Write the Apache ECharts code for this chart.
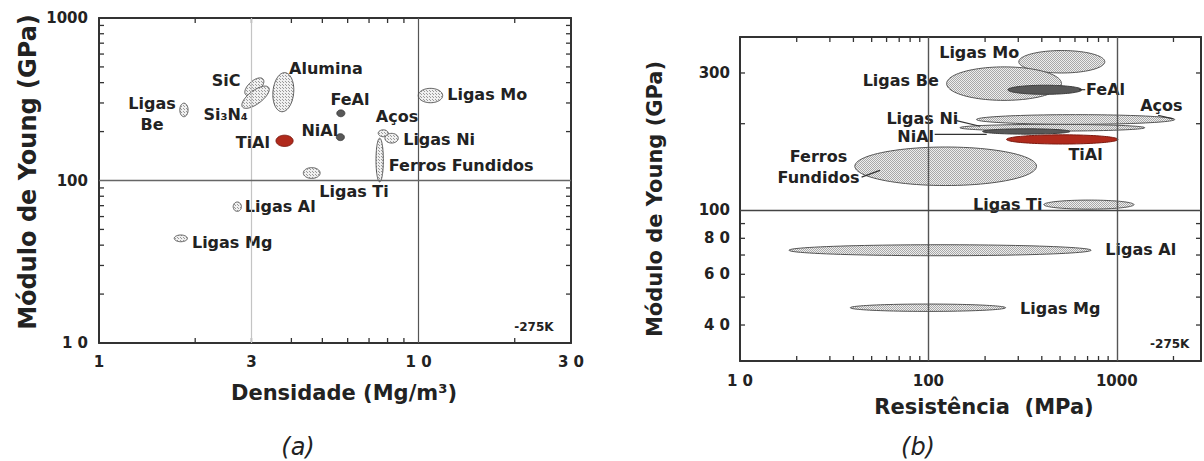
<!DOCTYPE html>
<html>
<head>
<meta charset="utf-8">
<script src="https://cdn.jsdelivr.net/npm/echarts@6/dist/echarts.min.js"></script>
<style>
  html, body { margin: 0; padding: 0; background: #fff; }
  #chart { width: 1204px; height: 461px; }
</style>
</head>
<body>
<div id="chart"></div>
<script>
// ---------- (a) Young's modulus vs density: property ranges per material ----------
const densMaterials = ['Ligas Be', 'SiC', 'Si₃N₄', 'Alumina', 'FeAl', 'NiAl', 'TiAl',
  'Ligas Mo', 'Aços', 'Ligas Ni', 'Ferros Fundidos', 'Ligas Ti', 'Ligas Al', 'Ligas Mg'];
const densityLow  = [1.79, 2.86, 2.80, 3.50, 5.55, 5.53, 3.58, 9.98, 7.48, 7.85, 7.36, 4.36, 2.63, 1.72];
const densityHigh = [1.90, 3.28, 3.41, 4.07, 5.88, 5.86, 4.05, 11.9, 8.04, 8.64, 7.76, 4.92, 2.79, 1.89];
const modulusLowA  = [247, 332, 278, 265, 247, 176, 162, 301, 186, 170, 98, 103, 64.6, 42.0];
const modulusHighA = [299, 428, 381, 461, 272, 194, 190, 369, 205, 195, 182, 120, 73.7, 46.2];

// ---------- (b) Young's modulus vs strength ----------
const strMaterials = ['Ligas Mo', 'Ligas Be', 'FeAl', 'Ligas Ni', 'Aços', 'NiAl', 'TiAl',
  'Ferros Fundidos', 'Ligas Ti', 'Ligas Al', 'Ligas Mg'];
const strengthLow  = [302, 125, 264, 147, 180, 194, 260, 40.7, 410, 18.2, 38.5];
const strengthHigh = [864, 509, 652, 1408, 2032, 564, 1016, 375, 1234, 731, 257];
const modulusLowB  = [300, 241, 253, 188.5, 199, 184, 170, 122, 101, 69.6, 44.6];
const modulusHighB = [359, 315, 272, 199, 215, 192, 183, 166, 108.6, 76, 47.3];

// ---------- axis ranges, tick values and tick label texts ----------
const densRange = [1, 30];
const modARange = [10, 1000];
const strRange  = [10, 2800];
const modBRange = [30, 400];
const densLabelValues = [1, 3, 10, 30];
const densLabelTexts  = ['1', '3', '1 0', '3 0'];
const densMinorTicks  = [2, 3, 4, 5, 6, 7, 8, 9, 20];
const modALabelValues = [10, 100, 1000];
const modALabelTexts  = ['1 0', '100', '1000'];
const modAMinorTicks  = [20, 30, 40, 50, 60, 70, 80, 90, 200, 300, 400, 500, 600, 700, 800, 900];
const strLabelValues  = [10, 100, 1000];
const strLabelTexts   = ['1 0', '100', '1000'];
const strMinorTicks   = [20, 30, 40, 50, 60, 70, 80, 90, 200, 300, 400, 500, 600, 700, 800, 900, 2000];
const modBLabelValues = [40, 60, 80, 100, 300];
const modBLabelTexts  = ['4 0', '6 0', '8 0', '100', '300'];
const modBMinorTicks  = [40, 50, 60, 70, 80, 90, 200, 300];

// ---------- annotation layout (label anchors in data units) ----------
const densLabelText = ['Ligas\nBe', 'SiC', 'Si₃N₄', 'Alumina', 'FeAl', 'NiAl', 'TiAl',
  'Ligas Mo', 'Aços', 'Ligas Ni', 'Ferros Fundidos', 'Ligas Ti', 'Ligas Al', 'Ligas Mg'];
const densLabelX = [1.465, 2.50, 2.49, 5.13, 6.10, 4.91, 3.03, 16.4, 8.56, 11.6, 13.6, 6.28, 3.69, 2.61];
const densLabelY = [257, 410, 256, 492, 317, 202, 171, 336, 246, 178, 123, 86, 68.7, 41.3];

const strLabelText = ['Ligas Mo', 'Ligas Be', 'FeAl', 'Aços', 'Ligas Ni', 'NiAl', 'TiAl',
  'Ferros\nFundidos', 'Ligas Ti', 'Ligas Al', 'Ligas Mg'];
const strLabelX = [186, 71.3, 872, 1726, 92.9, 85.6, 683, 26.1, 264, 1340, 501];
const strLabelY = [354, 283, 262, 231, 208, 180, 156, 141, 104.6, 73.4, 45.7];
// leader lines [x1, y1, x2, y2]
const strLeaders = [
  [141, 205, 188, 196],
  [108, 183.5, 204, 183.5],
  [44.2, 130.5, 55.3, 137.7],
  [630, 262.5, 680, 262.5],
  [1656, 214, 1990, 208]
];

// ---------- styles ----------
const densTilt = [0, 0.6, 0.7, 0.12, 0, 0, 0, 0, 0, 0, 0, 0, 0, 0];
const densKind = ['dots', 'dots', 'dots', 'dots', 'dark', 'dark', 'red', 'dots', 'dots', 'dots', 'dots', 'dots', 'dots', 'dots'];
const strKind  = ['dots', 'dots', 'dark', 'dots', 'dots', 'dark', 'red', 'dots', 'dots', 'dots', 'dots'];

function stipple(bg, dot, size) {
  const c = document.createElement('canvas');
  c.width = size; c.height = size;
  const g = c.getContext('2d');
  g.fillStyle = bg; g.fillRect(0, 0, size, size);
  g.fillStyle = dot;
  g.fillRect(0, 0, 1, 1);
  g.fillRect(Math.floor(size / 2), Math.floor(size / 2), 1, 1);
  return { image: c, repeat: 'repeat' };
}
const fillA = stipple('#f0f0f0', '#9a9a9a', 3);
const fillB = stipple('#eeeeee', '#a8a8a8', 2);

const FONT = '"DejaVu Sans", "Liberation Sans", Arial, sans-serif';
const INK = '#222';
const FRAME = '#333';

function fillFor(kind, dotted) {
  if (kind === 'dark') return { fill: '#585858', stroke: '#3c3c3c' };
  if (kind === 'red') return { fill: '#b02a1c', stroke: '#7c1a10' };
  return { fill: dotted, stroke: '#555' };
}

// ellipse inscribed in the data box [xLo,xHi] x [yLo,yHi]; tilt skews it inside the box
function ellipseRenderer(kinds, tilts, pattern) {
  return function (params, api) {
    const lo = api.coord([api.value(0), api.value(2)]);
    const hi = api.coord([api.value(1), api.value(3)]);
    const cx = (lo[0] + hi[0]) / 2, cy = (lo[1] + hi[1]) / 2;
    const ax = Math.abs(hi[0] - lo[0]) / 2, ay = Math.abs(hi[1] - lo[1]) / 2;
    const rho = tilts ? tilts[params.dataIndex] : 0;
    const k = Math.sqrt(1 - rho * rho);
    const pts = [];
    for (let i = 0; i < 96; i++) {
      const t = i / 96 * Math.PI * 2;
      pts.push([cx + ax * Math.cos(t), cy - ay * (rho * Math.cos(t) + k * Math.sin(t))]);
    }
    const st = fillFor(kinds[params.dataIndex], pattern);
    return {
      type: 'polygon',
      shape: { points: pts },
      style: { fill: st.fill, stroke: st.stroke, lineWidth: 1 }
    };
  };
}

function textRenderer(texts, smallIndex) {
  return function (params, api) {
    const p = api.coord([api.value(0), api.value(1)]);
    const small = params.dataIndex === smallIndex;
    return {
      type: 'text',
      x: p[0], y: p[1],
      style: {
        text: texts[params.dataIndex],
        font: small ? 'bold 12px ' + FONT : 'bold 16px ' + FONT,
        fill: INK,
        align: 'center',
        verticalAlign: 'middle',
        lineHeight: 21
      }
    };
  };
}

function leaderRenderer(params, api) {
  const a = api.coord([api.value(0), api.value(1)]);
  const b = api.coord([api.value(2), api.value(3)]);
  return {
    type: 'line',
    shape: { x1: a[0], y1: a[1], x2: b[0], y2: b[1] },
    style: { stroke: '#333', lineWidth: 1.2 }
  };
}

// one custom series per frame side; each item is [x, y] with the tick value on its own axis
// and the other coordinate at the frame's geometric middle
function tickSeries(axisIdx, xRange, yRange, xTicks, yTicks) {
  const xMid = Math.sqrt(xRange[0] * xRange[1]);
  const yMid = Math.sqrt(yRange[0] * yRange[1]);
  const len = 5;
  const sides = [
    { items: xTicks.map(v => [v, yMid]), at: (api, x, y) => api.coord([x, yRange[0]]), d: [0, -len] },
    { items: xTicks.map(v => [v, yMid]), at: (api, x, y) => api.coord([x, yRange[1]]), d: [0, len] },
    { items: yTicks.map(v => [xMid, v]), at: (api, x, y) => api.coord([xRange[0], y]), d: [len, 0] },
    { items: yTicks.map(v => [xMid, v]), at: (api, x, y) => api.coord([xRange[1], y]), d: [-len, 0] }
  ];
  return sides.map(s => ({
    type: 'custom', xAxisIndex: axisIdx, yAxisIndex: axisIdx, silent: true,
    data: s.items,
    encode: { x: 0, y: 1 },
    renderItem: function (params, api) {
      const a = s.at(api, api.value(0), api.value(1));
      return {
        type: 'line',
        shape: { x1: a[0], y1: a[1], x2: a[0] + s.d[0], y2: a[1] + s.d[1] },
        style: { stroke: FRAME, lineWidth: 1.3 }
      };
    }
  }));
}

function near(list, v) {
  return list.findIndex(t => Math.abs(t - v) / t < 1e-6);
}

function logAxis(opts) {
  const withLabels = !!opts.labels;
  return {
    type: 'log',
    logBase: 10,
    gridIndex: opts.grid,
    position: opts.position,
    min: opts.range[0],
    max: opts.range[1],
    axisLine: { show: true, onZero: false, lineStyle: { color: FRAME, width: 2 } },
    axisTick: { show: false },
    minorTick: { show: false },
    splitLine: { show: false },
    axisLabel: withLabels ? {
      show: true,
      customValues: opts.labels,
      margin: opts.margin,
      fontFamily: FONT, fontWeight: 'bold', fontSize: 15, color: INK,
      formatter: v => { const i = near(opts.labels, v); return i < 0 ? '' : opts.texts[i]; }
    } : { show: false }
  };
}

let series = [];

// reference grid lines (a)
series.push({
  type: 'line', xAxisIndex: 0, yAxisIndex: 0, data: [], silent: true,
  markLine: {
    silent: true, symbol: ['none', 'none'], label: { show: false },
    data: [
      { xAxis: 3, lineStyle: { color: '#c4c4c4', width: 1.2, type: 'solid' } },
      { xAxis: 10, lineStyle: { color: '#555', width: 1.2, type: 'solid' } },
      { yAxis: 100, lineStyle: { color: '#666', width: 1.4, type: 'solid' } }
    ]
  }
});
// reference grid lines (b)
series.push({
  type: 'line', xAxisIndex: 2, yAxisIndex: 2, data: [], silent: true,
  markLine: {
    silent: true, symbol: ['none', 'none'], label: { show: false },
    data: [
      { xAxis: 100, lineStyle: { color: '#555', width: 1.4, type: 'solid' } },
      { xAxis: 1000, lineStyle: { color: '#555', width: 1.4, type: 'solid' } },
      { yAxis: 100, lineStyle: { color: '#444', width: 1.4, type: 'solid' } }
    ]
  }
});

// minor ticks on all four sides of both frames
series = series.concat(tickSeries(0, densRange, modARange, densMinorTicks, modAMinorTicks));
series = series.concat(tickSeries(2, strRange, modBRange, strMinorTicks, modBMinorTicks));

series.push({
  type: 'custom', name: 'densidade', xAxisIndex: 0, yAxisIndex: 0, silent: true,
  renderItem: ellipseRenderer(densKind, densTilt, fillA),
  data: densMaterials.map((n, i) => ({ name: n, value: [densityLow[i], densityHigh[i], modulusLowA[i], modulusHighA[i]] })),
  encode: { x: [0, 1], y: [2, 3] }
});
series.push({
  type: 'custom', name: 'resistencia', xAxisIndex: 2, yAxisIndex: 2, silent: true,
  renderItem: ellipseRenderer(strKind, null, fillB),
  data: strMaterials.map((n, i) => ({ name: n, value: [strengthLow[i], strengthHigh[i], modulusLowB[i], modulusHighB[i]] })),
  encode: { x: [0, 1], y: [2, 3] }
});

// material names and the temperature note
series.push({
  type: 'custom', xAxisIndex: 0, yAxisIndex: 0, silent: true,
  renderItem: textRenderer(densLabelText.concat(['-275K']), densLabelText.length),
  data: densLabelX.map((x, i) => [x, densLabelY[i]]).concat([[22.96, 12.55]]),
  encode: { x: 0, y: 1 }
});
series.push({
  type: 'custom', xAxisIndex: 2, yAxisIndex: 2, silent: true,
  renderItem: leaderRenderer,
  data: strLeaders,
  encode: { x: [0, 2], y: [1, 3] }
});
series.push({
  type: 'custom', xAxisIndex: 2, yAxisIndex: 2, silent: true,
  renderItem: textRenderer(strLabelText.concat(['-275K']), strLabelText.length),
  data: strLabelX.map((x, i) => [x, strLabelY[i]]).concat([[1910, 34.5]]),
  encode: { x: 0, y: 1 }
});

const chart = echarts.init(document.getElementById('chart'), null, { renderer: 'svg' });
chart.setOption({
  animation: false,
  backgroundColor: '#fff',
  grid: [
    { left: 99, top: 18, width: 472, height: 325 },
    { left: 740, top: 37, width: 461, height: 324 }
  ],
  xAxis: [
    logAxis({ grid: 0, position: 'bottom', range: densRange, labels: densLabelValues, texts: densLabelTexts, margin: 11 }),
    logAxis({ grid: 0, position: 'top', range: densRange }),
    logAxis({ grid: 1, position: 'bottom', range: strRange, labels: strLabelValues, texts: strLabelTexts, margin: 12 }),
    logAxis({ grid: 1, position: 'top', range: strRange })
  ],
  yAxis: [
    logAxis({ grid: 0, position: 'left', range: modARange, labels: modALabelValues, texts: modALabelTexts, margin: 11 }),
    logAxis({ grid: 0, position: 'right', range: modARange }),
    logAxis({ grid: 1, position: 'left', range: modBRange, labels: modBLabelValues, texts: modBLabelTexts, margin: 10 }),
    logAxis({ grid: 1, position: 'right', range: modBRange })
  ],
  graphic: [
    { type: 'text', x: 28, y: 172, rotation: Math.PI / 2,
      style: { text: 'Módulo de Young (GPa)', font: 'bold 24px ' + FONT, fill: INK, align: 'center', verticalAlign: 'middle' } },
    { type: 'text', x: 344, y: 393,
      style: { text: 'Densidade (Mg/m³)', font: 'bold 21px ' + FONT, fill: INK, align: 'center', verticalAlign: 'middle' } },
    { type: 'text', x: 655, y: 199, rotation: Math.PI / 2,
      style: { text: 'Módulo de Young (GPa)', font: 'bold 21px ' + FONT, fill: INK, align: 'center', verticalAlign: 'middle' } },
    { type: 'text', x: 984, y: 407,
      style: { text: 'Resistência  (MPa)', font: 'bold 21px ' + FONT, fill: INK, align: 'center', verticalAlign: 'middle' } },
    { type: 'text', x: 298, y: 447,
      style: { text: '(a)', font: 'italic 24px ' + FONT, fill: INK, align: 'center', verticalAlign: 'middle' } },
    { type: 'text', x: 918, y: 447,
      style: { text: '(b)', font: 'italic 24px ' + FONT, fill: INK, align: 'center', verticalAlign: 'middle' } }
  ],
  series: series
});
</script>
</body>
</html>
